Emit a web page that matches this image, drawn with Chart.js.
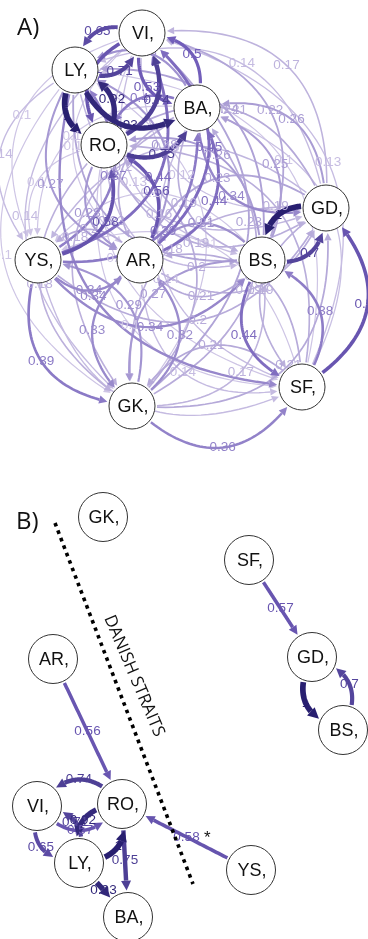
<!DOCTYPE html>
<html>
<head>
<meta charset="utf-8">
<script src="https://cdn.jsdelivr.net/npm/chart.js@4.4.1/dist/chart.umd.min.js"></script>
<style>
  html, body { margin: 0; padding: 0; background: #fff; }
  canvas { display: block; }
</style>
</head>
<body>
<canvas id="network" width="368" height="939"></canvas>
<script>
// sites, in the same order as the rows / columns of the flow matrix
const sites = ["VI", "LY", "BA", "RO", "GD", "YS", "AR", "BS", "GK", "SF"];

// layout for panel A (all connections)
const layoutAx = [142, 75, 197, 104, 326, 38, 140, 262, 132, 302];
const layoutAy = [33, 70, 108, 145, 208, 260, 260, 260, 406, 387];

// layout for panel B (geographic, strong connections only)
const layoutBx = [37, 79, 128, 122, 312, 251, 53, 343, 103, 249];
const layoutBy = [806, 863, 917, 804, 657, 870, 659, 730, 517, 560];

// connectivity: row = from, column = to
const flow = [
  [null, 0.65, 0.53, 0.57, 0.12, 0.1, 0.1, 0.13, 0.14, 0.1],
  [0.71, null, 0.93, 1, 0.16, 0.14, 0.27, 0.23, 0.1, 0.34],
  [0.5, 0.3, null, 0.4, 0.34, 0.1, 0.2, 0.19, 0.18, 0.14],
  [0.74, 0.92, 0.75, null, 0.19, 0.1, 0.28, 0.15, 0.18, 0.1],
  [0.17, 0.14, 0.26, 0.21, null, 0.16, 0.23, 1, 0.18, 0.19],
  [0.44, 0.37, 0.39, 0.58, 0.2, null, 0.34, 0.34, 0.39, 0.14],
  [0.45, 0.28, 0.44, 0.56, 0.19, 0.2, null, 0.21, 0.33, 0.14],
  [0.22, 0.24, 0.25, 0.26, 0.7, 0.1, 0.31, null, 0.27, 0.44],
  [0.23, 0.1, 0.2, 0.2, 0.21, 0.29, 0.32, 0.17, null, 0.36],
  [0.13, 0.1, 0.12, 0.19, 0.57, 0.1, 0.2, 0.38, 0.21, null]
];

// panel B keeps only the strong links
const cutoffB = 0.55;

function edgeList(minW) {
  const out = [];
  sites.forEach((s, i) => sites.forEach((t, j) => {
    const w = flow[i][j];
    if (w != null && w >= minW) {
      const back = flow[j][i];
      out.push({ from: i, to: j, w: w, mutual: back != null && back >= minW });
    }
  }));
  return out.sort((a, b) => a.w - b.w);
}

function edgeColour(w) {
  const stops = [[0.1, [206, 197, 229]], [0.5, [114, 94, 186]], [1, [40, 31, 112]]];
  if (w <= stops[0][0]) return 'rgb(' + stops[0][1].join(',') + ')';
  for (let k = 1; k < stops.length; k++) {
    if (w <= stops[k][0]) {
      const a = stops[k - 1], b = stops[k];
      const f = (w - a[0]) / (b[0] - a[0]);
      const c = a[1].map((v, n) => Math.round(v + (b[1][n] - v) * f));
      return 'rgb(' + c.join(',') + ')';
    }
  }
  return 'rgb(' + stops[2][1].join(',') + ')';
}

function dist(a, b) { return Math.hypot(a.x - b.x, a.y - b.y); }

function search(f, lo, hi) {
  // f(lo) < 0 < f(hi)
  for (let n = 0; n < 30; n++) {
    const mid = (lo + hi) / 2;
    if (f(mid) < 0) lo = mid; else hi = mid;
  }
  return (lo + hi) / 2;
}

function drawEdge(ctx, p0, p2, r, w, bend) {
  const dx = p2.x - p0.x, dy = p2.y - p0.y;
  const c = { x: (p0.x + p2.x) / 2 - bend * dy, y: (p0.y + p2.y) / 2 + bend * dx };
  const at = t => ({
    x: (1 - t) * (1 - t) * p0.x + 2 * (1 - t) * t * c.x + t * t * p2.x,
    y: (1 - t) * (1 - t) * p0.y + 2 * (1 - t) * t * c.y + t * t * p2.y
  });
  const gap = r + 2;
  const t0 = search(t => dist(at(t), p0) - gap, 0, 0.5);
  const t1 = search(t => gap - dist(at(t), p2), 0.5, 1);
  const tip = at(t1);
  const len = 6.5 + 4.5 * w, half = 3.2 + 2.4 * w;
  const tb = search(t => len - dist(at(t), tip), t0, t1);
  const base = at(tb);
  const col = edgeColour(w);

  ctx.strokeStyle = col;
  ctx.lineWidth = 0.7 + 5 * w;
  ctx.beginPath();
  for (let k = 0; k <= 40; k++) {
    const p = at(t0 + (tb - t0) * k / 40);
    if (k === 0) ctx.moveTo(p.x, p.y); else ctx.lineTo(p.x, p.y);
  }
  ctx.stroke();

  const ux = (tip.x - base.x) / len, uy = (tip.y - base.y) / len;
  ctx.fillStyle = col;
  ctx.beginPath();
  ctx.moveTo(tip.x, tip.y);
  ctx.lineTo(base.x - uy * half, base.y + ux * half);
  ctx.lineTo(base.x + uy * half, base.y - ux * half);
  ctx.closePath();
  ctx.fill();

  return { pos: at(0.5), col: col };
}

function drawPanel(ctx, xs, ys, lx, ly, r, edges, alwaysBend) {
  const pts = lx.map((v, i) => ({ x: xs.getPixelForValue(v), y: ys.getPixelForValue(ly[i]) }));
  const labels = [];
  edges.forEach(e => {
    const bend = (alwaysBend || e.mutual) ? 0.6 : 0;
    const res = drawEdge(ctx, pts[e.from], pts[e.to], r, e.w, bend);
    labels.push({ text: String(e.w), pos: res.pos, col: res.col });
  });
  ctx.font = '13.5px "Liberation Sans", Arial, sans-serif';
  ctx.textAlign = 'center';
  ctx.textBaseline = 'middle';
  labels.forEach(l => {
    ctx.fillStyle = l.col;
    ctx.fillText(l.text, l.pos.x, l.pos.y);
  });
}

const edgesA = edgeList(0);
const edgesB = edgeList(cutoffB);

const networkPlugin = {
  id: 'network',
  beforeDatasetsDraw(chart) {
    const ctx = chart.ctx;
    const xs = chart.scales.x, ys = chart.scales.y;
    ctx.save();
    drawPanel(ctx, xs, ys, layoutAx, layoutAy, 23, edgesA, true);
    drawPanel(ctx, xs, ys, layoutBx, layoutBy, 24.5, edgesB, false);

    // Danish straits divider
    ctx.strokeStyle = '#000';
    ctx.lineWidth = 3.6;
    ctx.setLineDash([3.6, 4.4]);
    ctx.beginPath();
    ctx.moveTo(xs.getPixelForValue(55), ys.getPixelForValue(523));
    ctx.lineTo(xs.getPixelForValue(193), ys.getPixelForValue(884));
    ctx.stroke();
    ctx.setLineDash([]);

    ctx.save();
    ctx.translate(xs.getPixelForValue(134), ys.getPixelForValue(676));
    ctx.rotate(Math.atan2(150, 64));
    ctx.fillStyle = '#111';
    ctx.font = '17px "Open Sans", sans-serif';
    ctx.textAlign = 'center';
    ctx.textBaseline = 'middle';
    ctx.fillText('DANISH STRAITS', 0, 0);
    ctx.restore();
    ctx.restore();
  },
  afterDatasetsDraw(chart) {
    const ctx = chart.ctx;
    const xs = chart.scales.x, ys = chart.scales.y;
    ctx.save();
    ctx.fillStyle = '#111';
    ctx.font = '18px "Liberation Sans", Arial, sans-serif';
    ctx.textAlign = 'center';
    ctx.textBaseline = 'middle';
    sites.forEach((s, i) => {
      ctx.fillText(s + ',', xs.getPixelForValue(layoutAx[i]) + 1, ys.getPixelForValue(layoutAy[i]) + 1);
      ctx.fillText(s + ',', xs.getPixelForValue(layoutBx[i]) + 1, ys.getPixelForValue(layoutBy[i]) + 1);
    });

    ctx.font = '24px "Open Sans", sans-serif';
    ctx.textAlign = 'left';
    ctx.textBaseline = 'alphabetic';
    ctx.fillText('A)', 17, 35);
    ctx.fillText('B)', 16, 529);

    ctx.font = '17px "Liberation Sans", Arial, sans-serif';
    ctx.fillText('*', 204, 843);
    ctx.restore();
  }
};

const nodeStyle = {
  pointBackgroundColor: '#ffffff',
  pointBorderColor: '#333333',
  pointBorderWidth: 1,
  showLine: false,
  clip: false
};

new Chart(document.getElementById('network').getContext('2d'), {
  type: 'scatter',
  data: {
    datasets: [
      Object.assign({
        label: 'A',
        data: sites.map((s, i) => ({ x: layoutAx[i], y: layoutAy[i] })),
        pointRadius: 23,
        pointHoverRadius: 23
      }, nodeStyle),
      Object.assign({
        label: 'B',
        data: sites.map((s, i) => ({ x: layoutBx[i], y: layoutBy[i] })),
        pointRadius: 24.5,
        pointHoverRadius: 24.5
      }, nodeStyle)
    ]
  },
  options: {
    responsive: false,
    animation: false,
    layout: { padding: 0, autoPadding: false },
    events: [],
    scales: {
      x: { type: 'linear', min: 0, max: 368, display: false },
      y: { type: 'linear', min: 0, max: 939, reverse: true, display: false }
    },
    plugins: {
      legend: { display: false },
      tooltip: { enabled: false }
    }
  },
  plugins: [networkPlugin]
});
</script>
</body>
</html>
